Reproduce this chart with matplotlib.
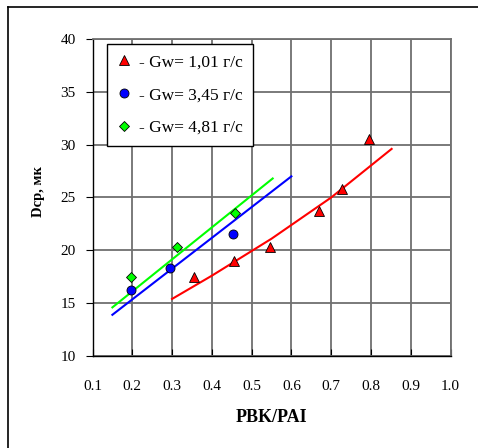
import matplotlib
matplotlib.use("Agg")
import numpy as np
from matplotlib import pyplot as plt
from matplotlib.lines import Line2D

# measured points
x_gw1 = [0.354, 0.456, 0.547, 0.669, 0.728, 0.796]
y_gw1 = [17.5, 19.0, 20.3, 23.7, 25.8, 30.5]
x_gw2 = [0.198, 0.295, 0.454]
y_gw2 = [16.2, 18.3, 21.5]
x_gw3 = [0.197, 0.313, 0.457]
y_gw3 = [17.5, 20.3, 23.5]

# trend lines
trend1_x = [0.30, 0.40, 0.55, 0.70, 0.852]
trend1_y = [15.4, 17.6, 21.1, 25.0, 29.6]
trend2_x = [0.15, 0.60]
trend2_y = [13.9, 27.0]
trend3_x = [0.15, 0.553]
trend3_y = [14.6, 26.8]

labels = ["- Gw= 1,01 г/с", "- Gw= 3,45 г/с", "- Gw= 4,81 г/с"]
x_ticks = np.round(np.arange(0.1, 1.01, 0.1), 1)
y_ticks = np.arange(10, 41, 5)

plt.rcParams["font.family"] = ["Liberation Serif", "DejaVu Serif"]

fig = plt.figure(figsize=(4.78, 4.48), dpi=100)
ax = fig.add_axes([92.5 / 478, 1 - 356 / 448, 358 / 478, 317 / 448])

ax.plot(trend1_x, trend1_y, color="#ff0000", lw=1.5, zorder=3)
ax.plot(trend2_x, trend2_y, color="#0000ff", lw=1.5, zorder=3)
ax.plot(trend3_x, trend3_y, color="#00ff00", lw=1.5, zorder=3)

ax.plot(x_gw1, y_gw1, "^", color="#ff0000", mec="black", mew=0.6, ms=7, ls="none", label=labels[0], zorder=4)
ax.plot(x_gw2, y_gw2, "o", color="#0000ff", mec="black", mew=0.6, ms=6.5, ls="none", label=labels[1], zorder=4)
ax.plot(x_gw3, y_gw3, "D", color="#00ff00", mec="black", mew=0.6, ms=5, ls="none", label=labels[2], zorder=4)

ax.set_xlim(0.1, 1.0)
ax.set_ylim(10, 40)
ax.set_xticks(x_ticks)
ax.set_xticklabels([f"{v:.1f}" for v in x_ticks])
ax.set_yticks(y_ticks)
ax.grid(True, color="#707070", lw=1.3)
ax.set_axisbelow(True)

for side in ["top", "right"]:
    ax.spines[side].set_color("#707070")
    ax.spines[side].set_linewidth(1.3)
for side in ["left", "bottom"]:
    ax.spines[side].set_color("black")
    ax.spines[side].set_linewidth(1.0)

ax.tick_params(axis="y", direction="out", length=5, labelsize=11, pad=7)
ax.tick_params(axis="x", direction="in", length=5, labelsize=11, pad=17)

ax.set_xlabel("PBK/PAI", fontsize=13, fontweight="bold", labelpad=12)
ax.set_ylabel("Dcp, мк", fontsize=10.5, fontweight="bold")
ax.yaxis.set_label_coords(-0.133, 0.52)

leg = ax.legend(loc="upper left", bbox_to_anchor=(14 / 358, 1 - 5 / 317), fontsize=12.5,
                frameon=True, fancybox=False, framealpha=1, edgecolor="black",
                borderpad=0.6, labelspacing=0.95, handlelength=0.8, handletextpad=0.45,
                borderaxespad=0)
leg.get_frame().set_linewidth(1.0)

# outer chart frame (left and top edges only are visible)
fig.add_artist(Line2D([8 / 478, 8 / 478], [0, 1 - 7.5 / 448], color="black", lw=1.2))
fig.add_artist(Line2D([8 / 478, 1], [1 - 7.5 / 448, 1 - 7.5 / 448], color="black", lw=1.2))

fig.savefig("out.png", dpi=100)
